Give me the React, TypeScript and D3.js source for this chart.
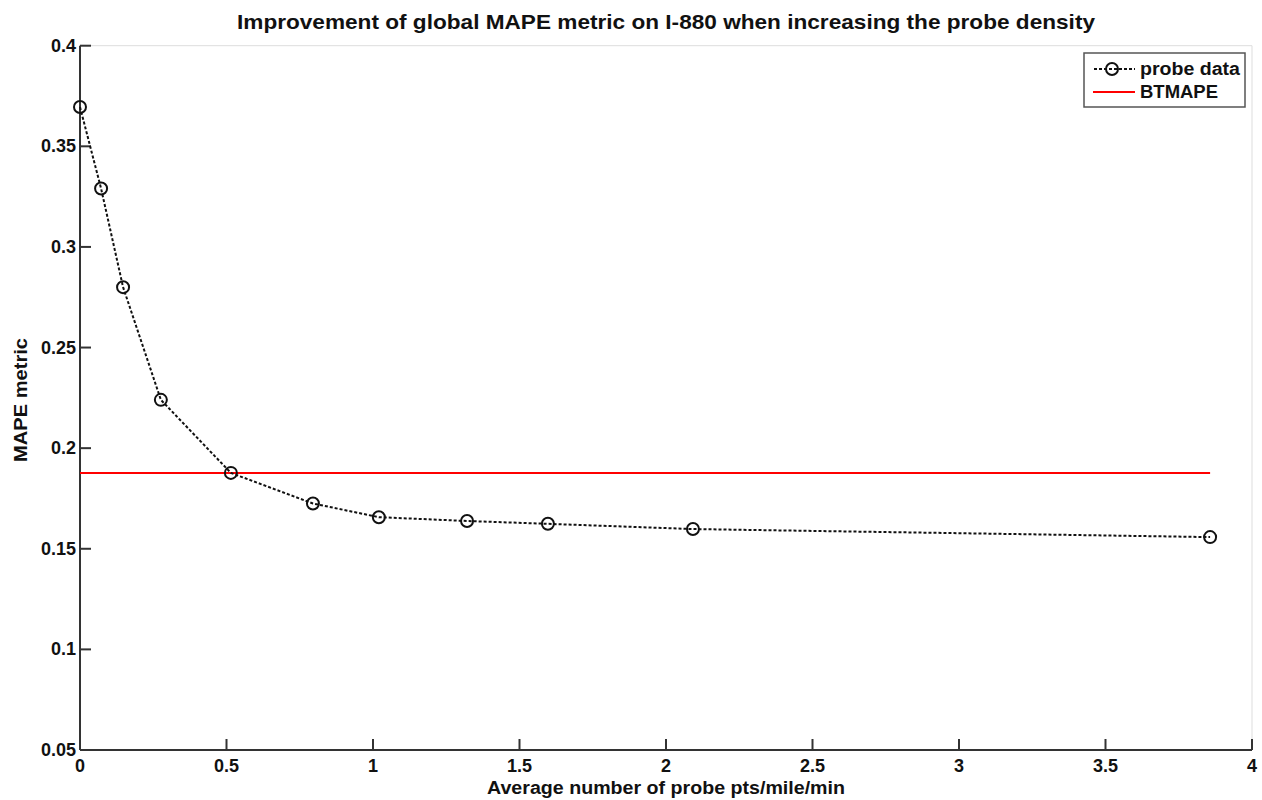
import React from "react";
import * as d3 from "d3";

const probeX = [0, 0.072, 0.147, 0.276, 0.515, 0.795, 1.02, 1.321, 1.597, 2.092, 3.857];
const probeY = [0.3695, 0.329, 0.28, 0.224, 0.1877, 0.1725, 0.1657, 0.1638, 0.1624, 0.1598, 0.1558];
const btmape = 0.1876;
const xTicks = [0, 0.5, 1, 1.5, 2, 2.5, 3, 3.5, 4];
const yTicks = [0.05, 0.1, 0.15, 0.2, 0.25, 0.3, 0.35, 0.4];
const title = "Improvement of global MAPE metric on I-880 when increasing the probe density";
const xLabel = "Average number of probe pts/mile/min";
const yLabel = "MAPE metric";
const legendLabels = ["probe data", "BTMAPE"];

const W = 1262, H = 800;
const L = 80, R = 1252, T = 45.7, B = 750;
const font = "'Liberation Sans', Arial, sans-serif";

export default function App() {
  const x = d3.scaleLinear().domain([0, 4]).range([L, R]);
  const y = d3.scaleLinear().domain([0.05, 0.4]).range([B, T]);
  const pts = probeX.map((v, i) => [v, probeY[i]] as [number, number]);
  const line = d3.line<[number, number]>().x(d => x(d[0])).y(d => y(d[1]))(pts) || "";
  const xFmt = (v: number) => String(v);
  return (
    <svg width={W} height={H} style={{ position: "absolute", left: 0, top: 0, background: "#fff" }}>
      <rect x={0} y={0} width={W} height={H} fill="#fff" />
      <text x={(L + R) / 2} y={29} textAnchor="middle" fontFamily={font} fontWeight="bold" fontSize={21} fill="#111" textLength={858} lengthAdjust="spacingAndGlyphs">{title}</text>
      {/* box light borders */}
      <line x1={L} x2={R} y1={T} y2={T} stroke="#ddd" strokeWidth={1} />
      <line x1={R} x2={R} y1={T} y2={B} stroke="#ddd" strokeWidth={1} />
      {/* axes */}
      <line x1={L} x2={L} y1={T} y2={B} stroke="#333" strokeWidth={2} />
      <line x1={L} x2={R} y1={B} y2={B} stroke="#333" strokeWidth={2} />
      {yTicks.map(t => (
        <g key={"y" + t}>
          <line x1={L} x2={L + 11} y1={y(t)} y2={y(t)} stroke="#333" strokeWidth={2} />
          <text x={L - 4} y={y(t) + 6} textAnchor="end" fontFamily={font} fontWeight="bold" fontSize={18} fill="#111">{String(t)}</text>
        </g>
      ))}
      {xTicks.map(t => (
        <g key={"x" + t}>
          <line x1={x(t)} x2={x(t)} y1={B} y2={B - 11} stroke="#333" strokeWidth={2} />
          <text x={x(t)} y={B + 22} textAnchor="middle" fontFamily={font} fontWeight="bold" fontSize={18} fill="#111">{xFmt(t)}</text>
        </g>
      ))}
      <text x={666} y={794} textAnchor="middle" fontFamily={font} fontWeight="bold" fontSize={18} fill="#111" textLength={358} lengthAdjust="spacingAndGlyphs">{xLabel}</text>
      <text transform={`translate(27,400) rotate(-90)`} textAnchor="middle" fontFamily={font} fontWeight="bold" fontSize={18} fill="#111" textLength={124} lengthAdjust="spacingAndGlyphs">{yLabel}</text>
      {/* BTMAPE */}
      <line x1={x(probeX[0])} x2={x(probeX[probeX.length - 1])} y1={y(btmape)} y2={y(btmape)} stroke="#f00" strokeWidth={2} />
      {/* probe data */}
      <path d={line} fill="none" stroke="#111" strokeWidth={2} strokeDasharray="3,2" />
      {pts.map((p, i) => (
        <circle key={i} cx={x(p[0])} cy={y(p[1])} r={6} fill="none" stroke="#111" strokeWidth={2} />
      ))}
      {/* legend */}
      <rect x={1084} y={53} width={161} height={54} fill="#fff" stroke="#555" strokeWidth={1.5} />
      <line x1={1094} x2={1135} y1={69} y2={69} stroke="#111" strokeWidth={2} strokeDasharray="3,2" />
      <circle cx={1112} cy={69} r={6} fill="none" stroke="#111" strokeWidth={2} />
      <text x={1140} y={75} fontFamily={font} fontWeight="bold" fontSize={18} fill="#111" textLength={100} lengthAdjust="spacingAndGlyphs">{legendLabels[0]}</text>
      <line x1={1093} x2={1135} y1={92} y2={92} stroke="#f00" strokeWidth={2} />
      <text x={1140} y={98} fontFamily={font} fontWeight="bold" fontSize={18} fill="#111" textLength={78} lengthAdjust="spacingAndGlyphs">{legendLabels[1]}</text>
    </svg>
  );
}
